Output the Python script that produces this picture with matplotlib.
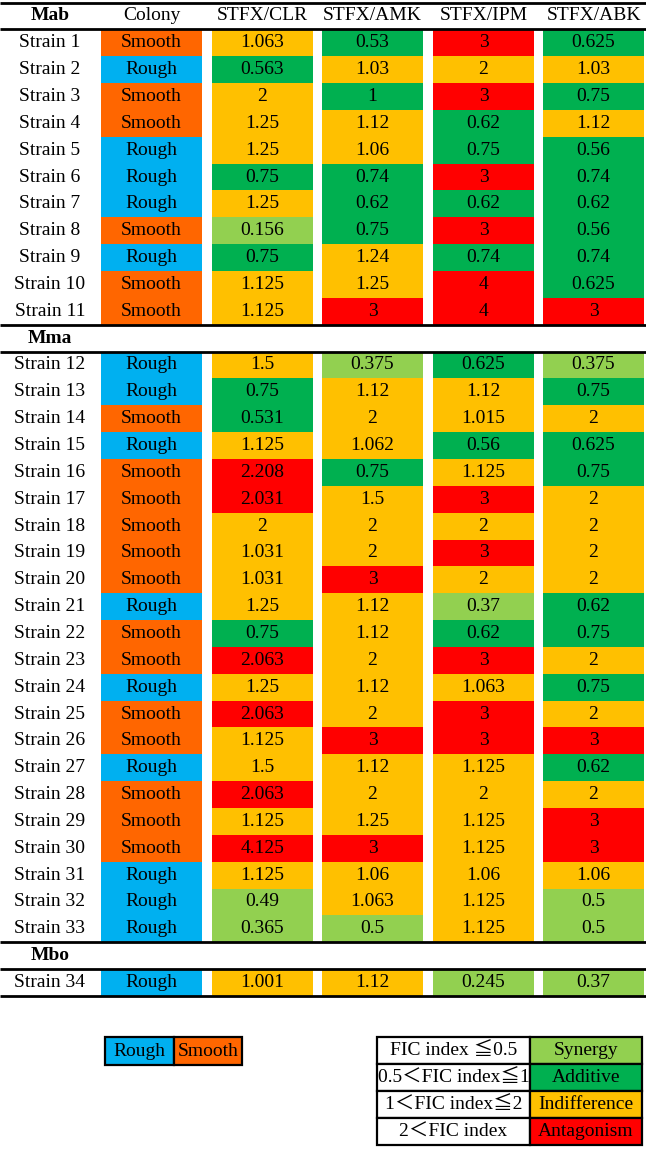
import matplotlib.pyplot as plt
from matplotlib.patches import Rectangle

plt.rcParams['font.family'] = ['Liberation Serif', 'Noto Sans CJK SC', 'DejaVu Sans']
plt.rcParams['font.size'] = 14

# ---------------- data ----------------
drug_cols = ['STFX/CLR', 'STFX/AMK', 'STFX/IPM', 'STFX/ABK']
groups = ['Mab', 'Mma', 'Mbo']
group_sizes = [11, 22, 1]
strains = ['Strain %d' % i for i in range(1, 35)]

colony = ['Smooth', 'Rough', 'Smooth', 'Smooth', 'Rough', 'Rough', 'Rough', 'Smooth', 'Rough',
          'Smooth', 'Smooth',
          'Rough', 'Rough', 'Smooth', 'Rough', 'Smooth', 'Smooth', 'Smooth', 'Smooth', 'Smooth',
          'Rough', 'Smooth', 'Smooth', 'Rough', 'Smooth', 'Smooth', 'Rough', 'Smooth', 'Smooth',
          'Smooth', 'Rough', 'Rough', 'Rough',
          'Rough']

clr = ['1.063', '0.563', '2', '1.25', '1.25', '0.75', '1.25', '0.156', '0.75', '1.125', '1.125',
       '1.5', '0.75', '0.531', '1.125', '2.208', '2.031', '2', '1.031', '1.031', '1.25', '0.75',
       '2.063', '1.25', '2.063', '1.125', '1.5', '2.063', '1.125', '4.125', '1.125', '0.49', '0.365',
       '1.001']
amk = ['0.53', '1.03', '1', '1.12', '1.06', '0.74', '0.62', '0.75', '1.24', '1.25', '3',
       '0.375', '1.12', '2', '1.062', '0.75', '1.5', '2', '2', '3', '1.12', '1.12',
       '2', '1.12', '2', '3', '1.12', '2', '1.25', '3', '1.06', '1.063', '0.5',
       '1.12']
ipm = ['3', '2', '3', '0.62', '0.75', '3', '0.62', '3', '0.74', '4', '4',
       '0.625', '1.12', '1.015', '0.56', '1.125', '3', '2', '3', '2', '0.37', '0.62',
       '3', '1.063', '3', '3', '1.125', '2', '1.125', '1.125', '1.06', '1.125', '1.125',
       '0.245']
abk = ['0.625', '1.03', '0.75', '1.12', '0.56', '0.74', '0.62', '0.56', '0.74', '0.625', '3',
       '0.375', '0.75', '2', '0.625', '0.75', '2', '2', '2', '2', '0.62', '0.75',
       '2', '0.75', '2', '3', '0.62', '2', '3', '3', '1.06', '0.5', '0.5',
       '0.37']

colony_colors = {'Rough': '#00B0F0', 'Smooth': '#FF6600'}
fic_labels = ['FIC index \u22660.5', '0.5\uff1cFIC index\u22661', '1\uff1cFIC index\u22662', '2\uff1cFIC index']
fic_effects = ['Synergy', 'Additive', 'Indifference', 'Antagonism']
fic_colors = ['#92D050', '#00B050', '#FFC000', '#FF0000']
fic_limits = [0.5, 1, 2]


def fic_color(v):
    v = float(v)
    for lim, c in zip(fic_limits, fic_colors):
        if v <= lim:
            return c
    return fic_colors[-1]


# ---------------- layout ----------------
W, H = 646, 1158
top, rh = 2.5, 26.85
label_x = 50
col_left = [101, 212, 322, 433, 543]
col_w = 101

fig = plt.figure(figsize=(W / 100, H / 100), dpi=100)
ax = fig.add_axes([0, 0, 1, 1])
ax.set_xlim(0, W)
ax.set_ylim(H, 0)
ax.axis('off')


def yc(r):
    return top + (r + 0.5) * rh


# header
ax.text(label_x, yc(0), groups[0], ha='center', va='center', fontweight='bold')
for j, name in enumerate(['Colony'] + drug_cols):
    ax.text(col_left[j] + col_w / 2, yc(0), name, ha='center', va='center')

# rows
row = 1
lines = [0, 1]
idx = 0
for g, (gname, n) in enumerate(zip(groups, group_sizes)):
    if g > 0:
        ax.text(label_x, yc(row), gname, ha='center', va='center', fontweight='bold')
        lines += [row, row + 1]
        row += 1
    for k in range(n):
        vals = [colony[idx], clr[idx], amk[idx], ipm[idx], abk[idx]]
        ax.text(label_x, yc(row), strains[idx], ha='center', va='center')
        for j, v in enumerate(vals):
            fc = colony_colors[v] if j == 0 else fic_color(v)
            ax.add_patch(Rectangle((col_left[j], top + row * rh), col_w, rh,
                                   facecolor=fc, edgecolor='none', zorder=1))
            ax.text(col_left[j] + col_w / 2, yc(row), v, ha='center', va='center', zorder=3)
        row += 1
        idx += 1
lines.append(row)

for r in lines:
    ax.plot([0, W], [top + r * rh] * 2, color='black', lw=2.0, zorder=4, solid_capstyle='butt')

# colony legend
leg_x, leg_y, leg_w, leg_h = 105, 1037, 68.5, 28
for j, name in enumerate(['Rough', 'Smooth']):
    ax.add_patch(Rectangle((leg_x + j * leg_w, leg_y), leg_w, leg_h,
                           facecolor=colony_colors[name], edgecolor='black', lw=1.6, zorder=2))
    ax.text(leg_x + j * leg_w + leg_w / 2, leg_y + leg_h / 2, name, ha='center', va='center', zorder=3)

# FIC legend table
tx, ty, tw1, tw2, th = 377, 1037, 153, 112, 27.1
for i in range(4):
    y0 = ty + i * th
    ax.add_patch(Rectangle((tx, y0), tw1, th, facecolor='white', edgecolor='black', lw=1.6, zorder=2))
    ax.add_patch(Rectangle((tx + tw1, y0), tw2, th, facecolor=fic_colors[i], edgecolor='black', lw=1.6, zorder=2))
    ax.text(tx + tw1 / 2, y0 + th / 2, fic_labels[i], ha='center', va='center', zorder=3)
    ax.text(tx + tw1 + tw2 / 2, y0 + th / 2, fic_effects[i], ha='center', va='center', zorder=3)

fig.savefig('out.png', dpi=100)
